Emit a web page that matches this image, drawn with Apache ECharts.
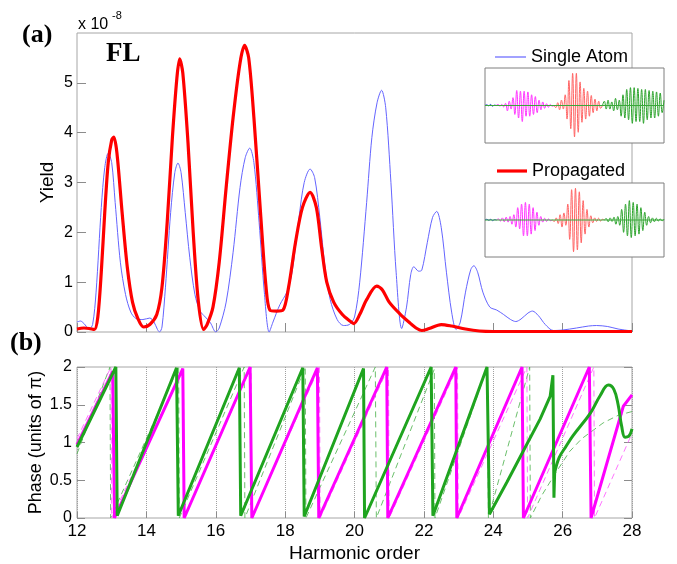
<!DOCTYPE html>
<html>
<head>
<meta charset="utf-8">
<script src="https://cdn.jsdelivr.net/npm/echarts@6/dist/echarts.min.js"></script>
<style>
  html, body { margin: 0; padding: 0; background: #fff; }
  #chart { width: 677px; height: 564px; }
</style>
</head>
<body>
<div id="chart"></div>
<script>
// ---------- (a) harmonic yield, units of 1e-8 ----------
const singleAtomYield = [
  [12.0,0.20],[12.1,0.22],[12.2,0.17],[12.35,0.06],[12.45,0.15],[12.55,0.8],[12.7,2.5],[12.8,3.3],[12.9,3.59],
  [13.0,3.4],[13.1,2.6],[13.25,1.4],[13.4,0.75],[13.55,0.4],[13.7,0.27],[13.9,0.25],[14.1,0.28],[14.22,0.2],
  [14.32,0.05],[14.38,0.0],[14.45,0.1],[14.55,0.9],[14.7,2.4],[14.82,3.2],[14.91,3.39],[15.0,3.2],[15.12,2.4],
  [15.25,1.5],[15.4,0.75],[15.55,0.42],[15.7,0.3],[15.85,0.18],[16.0,0.0],[16.1,0.08],[16.3,0.6],[16.5,1.6],
  [16.7,2.9],[16.85,3.5],[16.98,3.69],[17.1,3.4],[17.25,2.2],[17.4,0.8],[17.54,0.0],[17.65,0.2],[17.85,0.55],
  [18.05,0.8],[18.2,1.2],[18.4,2.3],[18.55,3.0],[18.72,3.27],[18.85,3.1],[19.0,2.3],[19.15,1.3],[19.3,0.65],
  [19.5,0.25],[19.68,0.13],[19.85,0.15],[20.0,0.3],[20.15,1.0],[20.35,2.6],[20.5,3.9],[20.65,4.6],[20.78,4.85],
  [20.9,4.5],[21.05,3.0],[21.2,1.2],[21.36,0.07],[21.5,0.5],[21.62,1.15],[21.71,1.31],[21.85,1.22],[21.94,1.24],
  [22.1,1.8],[22.25,2.3],[22.37,2.42],[22.5,2.1],[22.65,1.2],[22.8,0.4],[22.93,0.05],[23.05,0.2],[23.2,0.8],
  [23.35,1.25],[23.44,1.33],[23.55,1.2],[23.7,0.8],[23.9,0.5],[24.1,0.44],[24.3,0.35],[24.5,0.25],[24.65,0.21],
  [24.8,0.26],[25.0,0.38],[25.13,0.42],[25.3,0.33],[25.5,0.15],[25.73,0.03],[26.0,0.04],[26.4,0.08],[26.75,0.12],
  [26.98,0.13],[27.3,0.11],[27.6,0.06],[28.0,0.02]
];
const propagatedYield = [
  [12.0,0.06],[12.2,0.08],[12.35,0.07],[12.5,0.05],[12.6,0.3],[12.7,1.2],[12.8,2.4],[12.9,3.4],[13.0,3.85],
  [13.06,3.91],[13.15,3.6],[13.3,2.4],[13.45,1.3],[13.6,0.6],[13.75,0.28],[13.92,0.1],[14.1,0.15],[14.3,0.35],
  [14.45,0.9],[14.6,2.2],[14.75,3.9],[14.88,5.1],[14.96,5.48],[15.05,5.2],[15.2,3.8],[15.35,2.0],[15.5,0.6],
  [15.65,0.05],[15.75,0.15],[15.92,0.5],[16.1,1.4],[16.3,2.9],[16.5,4.3],[16.7,5.4],[16.83,5.75],[16.95,5.5],
  [17.1,4.3],[17.3,2.3],[17.45,0.9],[17.56,0.44],[17.75,0.42],[17.94,0.44],[18.1,0.9],[18.3,1.8],[18.5,2.5],
  [18.72,2.8],[18.9,2.5],[19.05,1.7],[19.2,1.0],[19.4,0.6],[19.65,0.35],[19.87,0.22],[19.98,0.17],[20.15,0.35],
  [20.35,0.65],[20.64,0.92],[20.8,0.85],[21.0,0.6],[21.3,0.37],[21.6,0.18],[21.8,0.07],[21.94,0.03],[22.15,0.07],
  [22.5,0.15],[22.8,0.12],[23.2,0.06],[23.6,0.02],[24.0,0.01],[28.0,0.01]
];

// ---------- (b) harmonic phase, units of pi ----------
const phaseGreen = [
  [12,0.94],[13.12,2.0],[13.16,0.03],[14.87,1.99],[14.92,0.03],[16.68,1.99],[16.72,0.03],[18.51,1.99],
  [18.55,0.02],[20.26,1.98],[20.29,0.0],[22.21,2.0],[22.26,0.03],[23.82,2.0],[23.89,0.05],[24.4,0.48],
  [24.87,0.89],[25.35,1.31],[25.64,1.61],[25.72,1.89],[25.75,0.27],[25.77,0.6]
];
const phaseGreenTail = [
  [25.77,0.6],[25.9,0.8],[26.1,0.95],[26.3,1.09],[26.8,1.39],[27.08,1.62],[27.32,1.76],[27.48,1.7],
  [27.6,1.5],[27.7,1.22],[27.8,1.07],[27.9,1.08],[28,1.18]
];
const phaseMagenta = [
  [12,0.97],[13.03,1.94],[13.08,0.0],[15.05,1.98],[15.09,0.0],[16.99,2.0],[17.04,0.0],[18.93,1.99],
  [18.97,0.0],[20.93,2.0],[20.96,0.0],[22.92,2.0],[22.95,0.0],[24.83,2.0],[24.87,0.0],[26.77,2.0],
  [26.82,0.0],[27.75,1.48],[28,1.63]
];
const phaseGreenRef = [
  [12,0.85],[12.95,2.0],[12.97,0.0],[14.93,2.0],[14.95,0.0],[16.82,2.0],[16.84,0.0],[18.58,2.0],
  [18.6,0.0],[20.6,2.0],[20.63,0.0],[22.3,1.97],[22.32,0.0],[23.83,2.0],[23.86,0.0],[25.05,2.0],
  [25.07,0.0],[25.4,0.3],[25.83,0.62],[26.2,0.88],[26.55,1.05],[27.17,1.26],[27.6,1.36],[28,1.41]
];
const phaseMagentaRef = [
  [12,1.05],[12.98,2.0],[13.0,0.0],[15.07,2.0],[15.09,0.0],[17.02,2.0],[17.04,0.0],[18.99,2.0],
  [19.01,0.0],[20.98,2.0],[21.0,0.0],[22.97,2.0],[22.99,0.0],[24.97,2.0],[24.99,0.0],[26.9,2.0],
  [26.92,0.0],[28,1.12]
];

// ---------- inset time traces: successive half-cycle extremes ----------
const atomBlue    = [0,0.02,-0.01,0.03,-0.02,0.01,0];
const atomMagenta = [0,0.03,-0.02,0.03,-0.04,0.06,-0.15,0.12,-0.1,0.22,-0.25,0.42,-0.35,0.4,-0.45,0.4,
                     -0.3,0.38,-0.3,0.3,-0.25,0.25,-0.2,0.15,-0.12,0.1,-0.08,0.05,-0.05,0.03,-0.02,0];
const atomRed     = [0,-0.06,0.08,-0.12,0.15,-0.1,0.3,-0.38,0.7,-0.65,0.9,-0.88,0.9,-0.75,0.66,-0.47,
                     0.48,-0.38,0.4,-0.3,0.28,-0.2,0.18,-0.15,0.12,-0.08,0];
const atomGreen   = [0,0.12,-0.1,0.15,-0.1,0.1,-0.15,0.2,-0.12,0.15,-0.3,0.3,-0.35,0.45,-0.4,0.5,-0.5,
                     0.5,-0.45,0.48,-0.45,0.45,-0.5,0.45,-0.4,0.42,-0.35,0.4,-0.35,0.38,-0.3,0.35,-0.2,0.15];
const propBlue    = [0,0.02,-0.01,0.02,-0.02,0.01,0];
const propMagenta = [0,0.03,-0.03,0.06,-0.05,0.08,-0.06,0.1,-0.12,0.15,-0.2,0.35,-0.25,0.45,-0.45,0.5,
                     -0.45,0.45,-0.4,0.35,-0.3,0.22,-0.15,0.1,-0.06,0.05,-0.04,0.03,-0.02,0];
const propRed     = [0,-0.04,0.06,-0.1,0.15,-0.2,0.2,-0.15,0.45,-0.55,0.86,-0.9,0.9,-0.85,0.8,-0.65,
                     0.55,-0.4,0.3,-0.2,0.12,-0.08,0.06,-0.04,0.05,-0.03,0.02,0];
const propGreen   = [0,0.04,-0.05,0.06,-0.04,0.08,-0.12,0.1,-0.15,0.3,-0.35,0.45,-0.45,0.55,-0.5,0.5,
                     -0.45,0.45,-0.4,0.35,-0.3,0.22,-0.15,0.1,-0.08,0.06,-0.05,0.05,-0.03,0.03,-0.02,0.02];

const xTicks = [12,14,16,18,20,22,24,26,28];
const sans = 'Liberation Sans, Arial, Helvetica, sans-serif';
const serif = 'Liberation Serif, Times New Roman, serif';

// lay the packets one after another on a common half-cycle index
function chain(packets) {
  let off = 0;
  const out = packets.map(vals => {
    const d = vals.map((v, i) => [off + i, v]);
    off += vals.length - 1;
    return d;
  });
  return { parts: out, last: off };
}
const atomTrace = chain([atomBlue, atomMagenta, atomRed, atomGreen]);
const propTrace = chain([propBlue, propMagenta, propRed, propGreen]);
const traceColors = ['#2b40d8', '#ff33ff', '#ff6464', '#2ca42c'];

function traceSeries(trace, xIdx, yIdx) {
  const s = trace.parts.map((d, k) => ({
    type: 'line', xAxisIndex: xIdx, yAxisIndex: yIdx, data: d,
    symbol: 'none', smooth: 0.45, silent: true, z: 12,
    lineStyle: { color: traceColors[k], width: 1 }
  }));
  s.push({
    type: 'line', xAxisIndex: xIdx, yAxisIndex: yIdx,
    data: [[0, 0], [trace.last, 0]], symbol: 'none', silent: true, z: 13,
    lineStyle: { color: '#3aa83a', width: 1 }
  });
  return s;
}

const chart = echarts.init(document.getElementById('chart'), null, { renderer: 'canvas' });

const frame = { show: true, borderColor: '#a6a6a6', borderWidth: 1, backgroundColor: 'transparent' };
const option = {
  backgroundColor: '#fff',
  animation: false,
  textStyle: { fontFamily: sans },
  grid: [
    Object.assign({ left: 77, top: 33, width: 555, height: 299 }, frame),
    Object.assign({ left: 77, top: 367, width: 555, height: 153 }, frame),
    { show: true, left: 485, top: 68, width: 179, height: 75, backgroundColor: '#fff', borderColor: '#7f7f7f', borderWidth: 1, z: 10 },
    { show: true, left: 485, top: 183, width: 179, height: 74, backgroundColor: '#fff', borderColor: '#7f7f7f', borderWidth: 1, z: 10 }
  ],
  xAxis: [
    { gridIndex: 0, type: 'value', min: xTicks[0], max: xTicks[xTicks.length - 1], interval: 2,
      axisLine: { show: false }, axisLabel: { show: false }, splitLine: { show: false },
      axisTick: { show: true, inside: true, length: 9, lineStyle: { color: '#8c8c8c' } } },
    { gridIndex: 1, type: 'value', min: xTicks[0], max: xTicks[xTicks.length - 1], interval: 2,
      axisLine: { show: false },
      axisTick: { show: true, inside: true, length: 6, lineStyle: { color: '#8c8c8c' } },
      axisLabel: { margin: 5, fontSize: 17, color: '#000', fontFamily: sans },
      splitLine: { show: true, lineStyle: { color: '#a0a0a0', type: 'dotted', width: 1 } },
      name: 'Harmonic order', nameLocation: 'middle', nameGap: 26, nameMoveOverlap: false,
      nameTextStyle: { fontSize: 19, color: '#000', fontFamily: sans } },
    { gridIndex: 2, type: 'value', min: 0, max: atomTrace.last, show: false },
    { gridIndex: 3, type: 'value', min: 0, max: propTrace.last, show: false }
  ],
  yAxis: [
    { gridIndex: 0, type: 'value', min: 0, max: 6, interval: 1,
      axisLine: { show: false }, splitLine: { show: false },
      axisTick: { show: true, inside: true, length: 9, lineStyle: { color: '#8c8c8c' } },
      axisLabel: { margin: 4, fontSize: 16, color: '#000', fontFamily: sans, showMaxLabel: false },
      name: 'Yield', nameLocation: 'middle', nameGap: 20, nameMoveOverlap: false,
      nameTextStyle: { fontSize: 19, color: '#000', fontFamily: sans } },
    { gridIndex: 1, type: 'value', min: 0, max: 2, interval: 0.5,
      axisLine: { show: false }, splitLine: { show: false },
      axisTick: { show: true, inside: true, length: 8, lineStyle: { color: '#8c8c8c' } },
      axisLabel: { margin: 5, fontSize: 16, color: '#000', fontFamily: sans },
      name: 'Phase (units of \u03c0)', nameLocation: 'middle', nameGap: 32, nameMoveOverlap: false,
      nameTextStyle: { fontSize: 18, color: '#000', fontFamily: sans } },
    { gridIndex: 1, type: 'value', min: 0, max: 2, interval: 0.5, position: 'right',
      axisLine: { show: false }, splitLine: { show: false }, axisLabel: { show: false },
      axisTick: { show: true, inside: true, length: 8, lineStyle: { color: '#8c8c8c' } } },
    { gridIndex: 2, type: 'value', min: -1.05, max: 1.05, show: false },
    { gridIndex: 3, type: 'value', min: -1.05, max: 1.05, show: false }
  ],
  legend: [
    { data: [{ name: 'Single Atom', icon: 'rect' }], left: 490, top: 43, itemWidth: 31, itemHeight: 1.2, itemGap: 0,
      textStyle: { fontSize: 18, color: '#000', fontFamily: sans }, selectedMode: false },
    { data: [{ name: 'Propagated', icon: 'rect' }], left: 492, top: 157, itemWidth: 30, itemHeight: 3.2, itemGap: 0,
      textStyle: { fontSize: 18, color: '#000', fontFamily: sans }, selectedMode: false }
  ],
  graphic: [
    { type: 'text', left: 22, top: 22, style: { text: '(a)', font: 'bold 26px ' + serif, fill: '#000' } },
    { type: 'text', left: 10, top: 330, style: { text: '(b)', font: 'bold 26px ' + serif, fill: '#000' } },
    { type: 'text', left: 106, top: 41, style: { text: 'FL', font: 'bold 27px ' + serif, fill: '#000' } },
    { type: 'text', left: 78, top: 17, style: { text: 'x 10', font: '16px ' + sans, fill: '#000' } },
    { type: 'text', left: 112, top: 10, style: { text: '-8', font: '11px ' + sans, fill: '#000' } }
  ],
  series: [
    { name: 'Single Atom', type: 'line', xAxisIndex: 0, yAxisIndex: 0, data: singleAtomYield,
      symbol: 'none', smooth: 0.3, z: 3, lineStyle: { color: '#6464ff', width: 1 }, itemStyle: { color: '#6464ff' } },
    { name: 'Propagated', type: 'line', xAxisIndex: 0, yAxisIndex: 0, data: propagatedYield,
      symbol: 'none', smooth: 0.3, z: 4, lineStyle: { color: '#ff0000', width: 3.2 }, itemStyle: { color: '#ff0000' } },

    { type: 'line', xAxisIndex: 1, yAxisIndex: 1, data: phaseGreenRef, symbol: 'none', z: 3,
      lineStyle: { color: '#5cb85c', width: 1, type: [6, 4], opacity: 0.9 } },
    { type: 'line', xAxisIndex: 1, yAxisIndex: 1, data: phaseMagentaRef, symbol: 'none', z: 3,
      lineStyle: { color: '#ff66ff', width: 1, type: [6, 4], opacity: 0.9 } },
    { type: 'line', xAxisIndex: 1, yAxisIndex: 1, data: phaseMagenta, symbol: 'none', z: 4,
      lineStyle: { color: '#ff00ff', width: 3 } },
    { type: 'line', xAxisIndex: 1, yAxisIndex: 1, data: phaseGreen, symbol: 'none', z: 5,
      lineStyle: { color: '#1fa41f', width: 3 } },
    { type: 'line', xAxisIndex: 1, yAxisIndex: 1, data: phaseGreenTail, symbol: 'none', smooth: 0.4, z: 5,
      lineStyle: { color: '#1fa41f', width: 3 } }
  ].concat(traceSeries(atomTrace, 2, 3)).concat(traceSeries(propTrace, 3, 4))
};
chart.setOption(option);
</script>
</body>
</html>
